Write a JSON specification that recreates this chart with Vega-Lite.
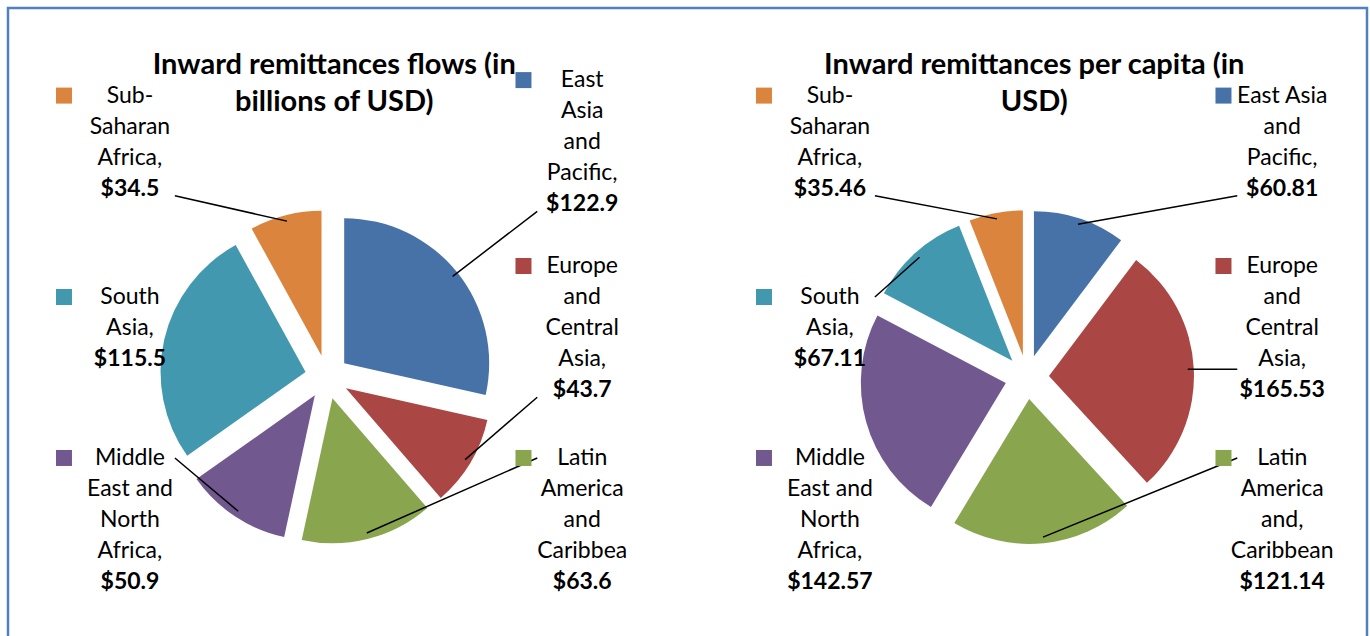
{
  "$schema": "https://vega.github.io/schema/vega-lite/v6.json",
  "width": 1359,
  "height": 632,
  "autosize": {"type": "none"},
  "padding": {"left": 8, "top": 8, "right": 3, "bottom": 0},
  "background": "white",
  "config": {
    "view": {"stroke": "#4f81bd", "strokeWidth": 2.5},
    "font": "Lato",
    "text": {"font": "Lato"}
  },
  "data": {
    "values": [
      {"chart": "Inward remittances flows (in billions of USD)", "region": "East Asia and Pacific", "lines": "East|Asia|and|Pacific,", "value": 122.9},
      {"chart": "Inward remittances flows (in billions of USD)", "region": "Europe and Central Asia", "lines": "Europe|and|Central|Asia,", "value": 43.7},
      {"chart": "Inward remittances flows (in billions of USD)", "region": "Latin America and Caribbean", "lines": "Latin|America|and|Caribbea", "value": 63.6},
      {"chart": "Inward remittances flows (in billions of USD)", "region": "Middle East and North Africa", "lines": "Middle|East and|North|Africa,", "value": 50.9},
      {"chart": "Inward remittances flows (in billions of USD)", "region": "South Asia", "lines": "South|Asia,", "value": 115.5},
      {"chart": "Inward remittances flows (in billions of USD)", "region": "Sub-Saharan Africa", "lines": "Sub-|Saharan|Africa,", "value": 34.5},
      {"chart": "Inward remittances per capita (in USD)", "region": "East Asia and Pacific", "lines": "East Asia|and|Pacific,", "value": 60.81},
      {"chart": "Inward remittances per capita (in USD)", "region": "Europe and Central Asia", "lines": "Europe|and|Central|Asia,", "value": 165.53},
      {"chart": "Inward remittances per capita (in USD)", "region": "Latin America and Caribbean", "lines": "Latin|America|and,|Caribbean", "value": 121.14},
      {"chart": "Inward remittances per capita (in USD)", "region": "Middle East and North Africa", "lines": "Middle|East and|North|Africa,", "value": 142.57},
      {"chart": "Inward remittances per capita (in USD)", "region": "South Asia", "lines": "South|Asia,", "value": 67.11},
      {"chart": "Inward remittances per capita (in USD)", "region": "Sub-Saharan Africa", "lines": "Sub-|Saharan|Africa,", "value": 35.46}
    ]
  },
  "transform": [
    {"joinaggregate": [{"op": "sum", "field": "value", "as": "total"}], "groupby": ["chart"]},
    {"window": [{"op": "sum", "field": "value", "as": "cum"}], "groupby": ["chart"], "sort": [{"field": "region", "order": "ascending"}], "frame": [null, 0]},
    {"calculate": "(datum.cum - datum.value) / datum.total", "as": "t0"},
    {"calculate": "datum.cum / datum.total", "as": "t1"},
    {"calculate": "PI * (datum.t0 + datum.t1)", "as": "mid"},
    {"calculate": "0.1517 * sin(datum.mid)", "as": "ex"},
    {"calculate": "0.1517 * cos(datum.mid)", "as": "ey"},
    {"calculate": "datum.mid < PI ? 1 : -1", "as": "side"},
    {"calculate": "datum.side > 0 ? datum.mid : 2 * PI - datum.mid", "as": "key"},
    {"window": [{"op": "rank", "as": "row"}], "groupby": ["chart", "side"], "sort": [{"field": "key", "order": "ascending"}]},
    {"calculate": "datum.row == 1 ? 1.62 : datum.row == 2 ? 0.338 : -0.986", "as": "ly"},
    {"calculate": "datum.side > 0 ? 1.76 : -1.359", "as": "lx"},
    {"calculate": "length(split(datum.lines, '|')) + 1", "as": "n"},
    {"calculate": "datum.ly + (datum.n - 1) / 2 * 0.2138", "as": "ytop"},
    {"calculate": "datum.ly - (datum.n - 1) / 2 * 0.2138", "as": "ybot"},
    {"calculate": "'$' + datum.value", "as": "valText"},
    {"calculate": "datum.lx - (datum.side > 0 ? 0.405 : 0.455)", "as": "sx"},
    {"calculate": "1.11 * sin(datum.mid)", "as": "bx"},
    {"calculate": "1.11 * cos(datum.mid)", "as": "by"},
    {"calculate": "datum.lx - datum.side * 0.31", "as": "ax"},
    {"calculate": "datum.row == 1 ? datum.ybot - 0.05 : datum.row == 3 ? datum.ytop : clamp(datum.by, datum.ybot - 0.05, datum.ytop)", "as": "ay"},
    {"calculate": "sqrt(pow(datum.ax - datum.bx, 2) + pow(datum.ay - datum.by, 2))", "as": "len"}
  ],
  "encoding": {
    "x": {
      "field": "chart",
      "type": "nominal",
      "sort": null,
      "axis": null,
      "scale": {"type": "band", "paddingInner": 0.15857, "paddingOuter": 0.05, "align": 0.35}
    }
  },
  "layer": [
    {
      "mark": {"type": "arc", "outerRadius": 145, "innerRadius": 0},
      "encoding": {
        "xOffset": {"field": "ex", "type": "quantitative", "scale": {"domain": [-2.03103, 2.03103]}},
        "y": {"field": "ey", "type": "quantitative", "axis": null, "scale": {"domain": [-1.81379, 2.54483], "nice": false, "zero": false}},
        "theta": {"field": "t0", "type": "quantitative", "stack": null, "scale": {"domain": [0, 1], "range": [0, 6.283185307]}},
        "theta2": {"field": "t1"},
        "color": {
          "field": "region",
          "type": "nominal",
          "legend": null,
          "scale": {
            "domain": ["East Asia and Pacific", "Europe and Central Asia", "Latin America and Caribbean", "Middle East and North Africa", "South Asia", "Sub-Saharan Africa"],
            "range": ["#4672a8", "#aa4643", "#89a54e", "#71588f", "#4198af", "#db843d"]
          }
        }
      }
    },
    {
      "transform": [
        {"filter": "datum.len > 0.3"},
        {"calculate": "[datum.ax, datum.bx]", "as": "px"},
        {"calculate": "[datum.ay, datum.by]", "as": "py"},
        {"calculate": "[0, 1]", "as": "k"},
        {"flatten": ["px", "py", "k"]}
      ],
      "mark": {"type": "line", "color": "black", "strokeWidth": 1.5},
      "encoding": {
        "xOffset": {"field": "px", "type": "quantitative", "scale": {"domain": [-2.03103, 2.03103]}},
        "y": {"field": "py", "type": "quantitative", "axis": null, "scale": {"domain": [-1.81379, 2.54483], "nice": false, "zero": false}},
        "detail": [{"field": "chart"}, {"field": "region"}],
        "order": {"field": "k", "type": "quantitative"}
      }
    },
    {
      "mark": {"type": "point", "shape": "square", "filled": true, "opacity": 1, "size": 256},
      "encoding": {
        "xOffset": {"field": "sx", "type": "quantitative", "scale": {"domain": [-2.03103, 2.03103]}},
        "y": {"field": "ytop", "type": "quantitative", "axis": null, "scale": {"domain": [-1.81379, 2.54483], "nice": false, "zero": false}},
        "color": {"field": "region", "type": "nominal", "legend": null}
      }
    },
    {
      "mark": {"type": "text", "lineBreak": "|", "fontSize": 23, "lineHeight": 31, "baseline": "middle", "align": "center", "color": "black"},
      "encoding": {
        "xOffset": {"field": "lx", "type": "quantitative", "scale": {"domain": [-2.03103, 2.03103]}},
        "y": {"field": "ytop", "type": "quantitative", "axis": null, "scale": {"domain": [-1.81379, 2.54483], "nice": false, "zero": false}},
        "text": {"field": "lines"}
      }
    },
    {
      "mark": {"type": "text", "fontSize": 23, "baseline": "middle", "align": "center", "fontWeight": "bold", "color": "black"},
      "encoding": {
        "xOffset": {"field": "lx", "type": "quantitative", "scale": {"domain": [-2.03103, 2.03103]}},
        "y": {"field": "ybot", "type": "quantitative", "axis": null, "scale": {"domain": [-1.81379, 2.54483], "nice": false, "zero": false}},
        "text": {"field": "valText"}
      }
    },
    {
      "transform": [
        {"filter": "datum.region == 'East Asia and Pacific'"},
        {"calculate": "replace(datum.chart, '(in ', '(in|')", "as": "titleText"},
        {"calculate": "0.05", "as": "tx"},
        {"calculate": "2.1517", "as": "ty"}
      ],
      "mark": {"type": "text", "lineBreak": "|", "fontSize": 29, "lineHeight": 37, "baseline": "middle", "align": "center", "fontWeight": "bold", "color": "black"},
      "encoding": {
        "xOffset": {"field": "tx", "type": "quantitative", "scale": {"domain": [-2.03103, 2.03103]}},
        "y": {"field": "ty", "type": "quantitative", "axis": null, "scale": {"domain": [-1.81379, 2.54483], "nice": false, "zero": false}},
        "text": {"field": "titleText"}
      }
    }
  ]
}
